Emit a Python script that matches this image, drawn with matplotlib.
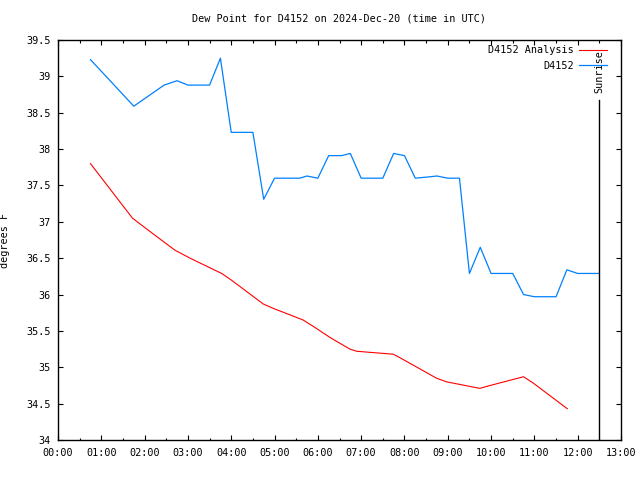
import matplotlib
matplotlib.use("Agg")
import matplotlib.pyplot as plt
from matplotlib.ticker import MultipleLocator, FixedLocator

# Times in hours UTC
obs_hours = [0.75, 1.75, 2.45, 2.75, 3.0, 3.5, 3.75, 4.0, 4.5, 4.75, 5.0, 5.58, 5.75,
             6.0, 6.25, 6.55, 6.75, 7.0, 7.5, 7.75, 8.0, 8.25, 8.6, 8.75, 9.0, 9.27,
             9.5, 9.75, 10.0, 10.5, 10.75, 11.0, 11.5, 11.75, 12.0, 12.5]
obs_values = [39.23, 38.59, 38.88, 38.94, 38.88, 38.88, 39.25, 38.23, 38.23, 37.31, 37.60,
              37.60, 37.63, 37.60, 37.91, 37.91, 37.94, 37.60, 37.60, 37.94, 37.91, 37.60,
              37.62, 37.63, 37.60, 37.60, 36.29, 36.65, 36.29, 36.29, 36.00, 35.97,
              35.97, 36.34, 36.29, 36.29]

ana_hours = [0.75, 1.72, 2.05, 2.7, 3.05, 3.78, 4.0, 4.74, 4.97, 5.66, 5.9, 6.28, 6.74,
             6.9, 7.74, 7.9, 8.74, 8.97, 9.74, 9.98, 10.75, 10.98, 11.76]
ana_values = [37.80, 37.05, 36.90, 36.61, 36.50, 36.29, 36.20, 35.87, 35.81, 35.65, 35.56,
              35.41, 35.25, 35.22, 35.18, 35.13, 34.85, 34.80, 34.71, 34.75, 34.87,
              34.78, 34.43]

sunrise_hour = 12.5
x_ticklabels = ["%02d:00" % h for h in range(14)]
y_ticks = [34, 34.5, 35, 35.5, 36, 36.5, 37, 37.5, 38, 38.5, 39, 39.5]

mono = "DejaVu Sans Mono"
fs = 7.3
plt.rcParams['font.family'] = mono
plt.rcParams['font.size'] = fs

fig = plt.figure(figsize=(6.4, 4.8), dpi=100)
ax = fig.add_axes([58/640, 40/480, (621-58)/640, (440-40)/480])

ax.plot(ana_hours, ana_values, color="#ff0000", lw=0.8, label="D4152 Analysis")
ax.plot(obs_hours, obs_values, color="#0080ff", lw=0.9, label="D4152")

ax.set_xlim(0, 13)
ax.set_ylim(34, 39.5)

ax.plot([sunrise_hour, sunrise_hour], [34, 38.67], color="black", lw=1.0)
ax.text(sunrise_hour + 0.01, 38.77, "Sunrise", rotation=90, ha="center", va="bottom",
        fontsize=fs, family=mono)

ax.xaxis.set_major_locator(FixedLocator(list(range(14))))
ax.set_xticklabels(x_ticklabels)
ax.xaxis.set_minor_locator(MultipleLocator(0.5))
ax.set_yticks(y_ticks)
ax.set_yticklabels(["%g" % v for v in y_ticks])

ax.tick_params(which="both", direction="in", top=True, right=True, width=0.8,
               labelsize=fs)
ax.tick_params(which="major", length=3.8)
ax.tick_params(which="minor", length=1.8)
ax.tick_params(axis="y", which="major", pad=5)
ax.tick_params(axis="x", which="major", pad=6)
for s in ax.spines.values():
    s.set_linewidth(1.0)

ax.set_ylabel("degrees F", fontsize=fs)
ax.yaxis.set_label_coords(-0.085, 0.5)
ax.set_title("Dew Point for D4152 on 2024-Dec-20 (time in UTC)", fontsize=fs, pad=13)

leg = ax.legend(loc="upper right", frameon=False, markerfirst=False, fontsize=fs,
                handlelength=2.8, handletextpad=0.5, borderaxespad=0.1,
                labelspacing=0.55, bbox_to_anchor=(0.985, 1.0))
for t in leg.get_texts():
    t.set_ha("right")

fig.savefig("out.png", dpi=100)
